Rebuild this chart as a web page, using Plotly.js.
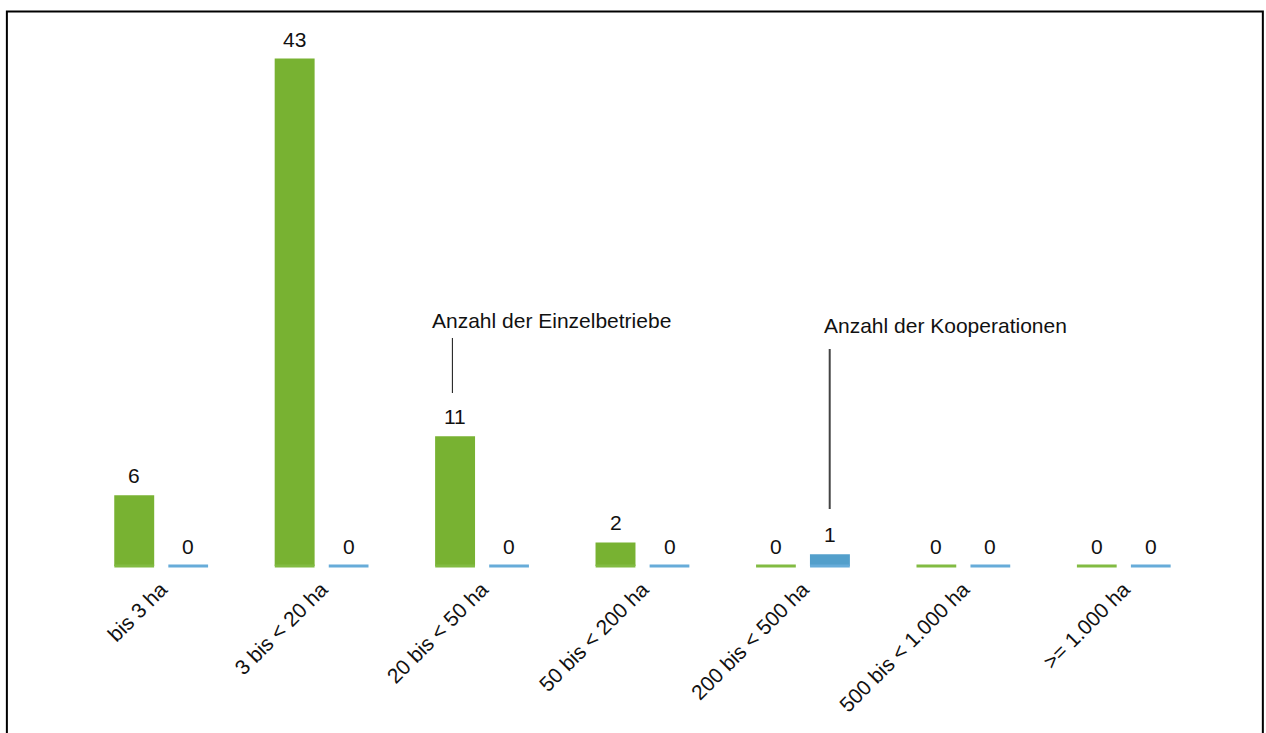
<!DOCTYPE html>
<html>
<head>
<meta charset="utf-8">
<script src="https://cdn.plot.ly/plotly-3.0.1.min.js"></script>
<style>
  html, body { margin: 0; padding: 0; background: #ffffff; }
  #chart { width: 1266px; height: 733px; }
</style>
</head>
<body>
<div id="chart"></div>
<script>
// ---- data ----
const categories = ["bis 3 ha", "3 bis < 20 ha", "20 bis < 50 ha", "50 bis < 200 ha", "200 bis < 500 ha", "500 bis < 1.000 ha", ">= 1.000 ha"];
const einzelbetriebe = [6, 43, 11, 2, 0, 0, 0];
const kooperationen = [0, 0, 0, 0, 1, 0, 0];
const labelEinzel = "Anzahl der Einzelbetriebe";
const labelKoop = "Anzahl der Kooperationen";

const GREEN = "#78b232";
const GREEN_EDGE = "#82bb42";
const BLUE = "#539fcb";
const BLUE_EDGE = "#67acd9";
const FONT = "Liberation Sans, Arial, sans-serif";
const FS = 21;

function barTrace(vals, color, name, grp) {
  return {
    type: "bar",
    name: name,
    x: categories,
    y: vals,
    offsetgroup: grp,
    marker: { color: color, line: { width: 0 } },
    hoverinfo: "x+y"
  };
}
// baseline strip under every bar (zero bars show only this strip)
function edgeTrace(vals, color, grp) {
  return {
    type: "scatter",
    mode: "markers",
    x: categories,
    y: vals.map(() => 0),
    offsetgroup: grp,
    marker: { symbol: "line-ew", size: 28.4, color: color, line: { color: color, width: 3 } },
    hoverinfo: "skip",
    cliponaxis: false
  };
}

const traces = [
  barTrace(einzelbetriebe, GREEN, labelEinzel, "g"),
  barTrace(kooperationen, BLUE, labelKoop, "b"),
  edgeTrace(einzelbetriebe, GREEN_EDGE, "g"),
  edgeTrace(kooperationen, BLUE_EDGE, "b")
];

// value labels above bars
const OFF = 27; // px offset of each bar from category centre
const annotations = [];
function addValueLabels(vals, shift) {
  vals.forEach((v, i) => {
    annotations.push({
      xref: "x", yref: "y",
      x: categories[i], y: v,
      xshift: shift, yshift: 6,
      yanchor: "bottom", xanchor: "center",
      text: String(v),
      showarrow: false,
      font: { family: FONT, size: FS, color: "#111111" }
    });
  });
}
addValueLabels(einzelbetriebe, -OFF);
addValueLabels(kooperationen, OFF);

annotations.push({
  xref: "paper", yref: "paper", x: 0.3106, y: 0.4614,
  xanchor: "left", yanchor: "middle",
  text: labelEinzel, showarrow: false,
  font: { family: FONT, size: FS, color: "#111111" }
});
annotations.push({
  xref: "paper", yref: "paper", x: 0.6595, y: 0.4529,
  xanchor: "left", yanchor: "middle",
  text: labelKoop, showarrow: false,
  font: { family: FONT, size: FS, color: "#111111" }
});

const shapes = [
  { type: "line", xref: "paper", yref: "paper", x0: 0.3307, x1: 0.3307, y0: 0.3258, y1: 0.4294,
    line: { color: "#111111", width: 1 } },
  { type: "line", xref: "paper", yref: "paper", x0: 0.6667, x1: 0.6667, y0: 0.1073, y1: 0.4087,
    line: { color: "#444444", width: 2 } },
  { type: "rect", xref: "paper", yref: "paper", x0: -0.0660, x1: 1.0524, y0: -0.40, y1: 1.0443,
    line: { color: "#000000", width: 2 }, fillcolor: "rgba(0,0,0,0)", layer: "above" }
];

const layout = {
  width: 1266,
  height: 733,
  margin: { l: 81, r: 61.5, t: 35, b: 167, pad: 0 },
  paper_bgcolor: "#ffffff",
  plot_bgcolor: "#ffffff",
  showlegend: false,
  barmode: "group",
  bargap: 0.327,
  bargroupgap: 0.26,
  scattermode: "group",
  scattergap: 0.327,
  font: { family: FONT, size: FS, color: "#111111" },
  xaxis: {
    type: "category",
    tickangle: -45,
    showgrid: false,
    zeroline: false,
    showline: false,
    ticks: "",
    ticklen: 0,
    ticklabelstandoff: 6,
    tickfont: { family: FONT, size: FS, color: "#111111" }
  },
  yaxis: {
    range: [0, 45],
    visible: false,
    showgrid: false,
    zeroline: false
  },
  annotations: annotations,
  shapes: shapes
};

Plotly.newPlot("chart", traces, layout, { displayModeBar: false, staticPlot: true });
</script>
</body>
</html>
